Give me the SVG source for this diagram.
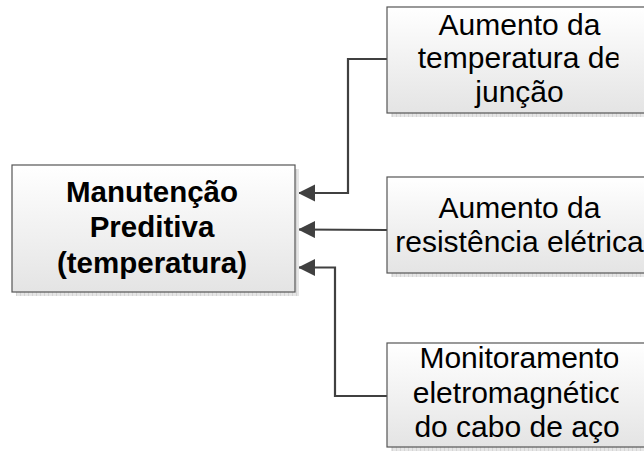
<svg xmlns="http://www.w3.org/2000/svg" width="644" height="451" viewBox="0 0 644 451">
<style>
.box{fill:url(#g);stroke:#555;stroke-width:1.2}
.sh{fill:url(#dots)}
.t{font-family:"Liberation Sans",Arial,sans-serif;font-size:30px;fill:#000;text-anchor:middle}
.b{font-family:"Liberation Sans",Arial,sans-serif;font-size:29.5px;font-weight:bold;fill:#000;text-anchor:middle}
.c{fill:none;stroke:#404040;stroke-width:2.2}
</style>
<defs>
<linearGradient id="g" x1="0" y1="0" x2="0" y2="1">
<stop offset="0" stop-color="#ffffff"/>
<stop offset="1" stop-color="#e4e4e4"/>
</linearGradient>
<pattern id="dots" width="4" height="4" patternUnits="userSpaceOnUse">
<rect width="4" height="4" fill="#e6e6e6"/>
<rect width="1" height="4" fill="#d4d4d4"/>
</pattern>
<marker id="ah" markerUnits="userSpaceOnUse" markerWidth="18" markerHeight="18" refX="17" refY="8.5" orient="auto">
<path d="M0,0 L17,8.5 L0,17 Z" fill="#404040"/>
</marker>
<clipPath id="clipR"><rect x="380" y="0" width="238.5" height="451"/></clipPath>
</defs>
<g id="connectors">
<polyline class="c" points="387,59 348,59 348,193 298,193" marker-end="url(#ah)"/>
<polyline class="c" points="387,230 298,229.5" marker-end="url(#ah)"/>
<polyline class="c" points="387,396 335,396 335,267.5 298,267.5" marker-end="url(#ah)"/>
</g>
<g id="node-manutencao">
<rect class="sh" x="16" y="169" width="283" height="127"/>
<rect class="box" x="12" y="165" width="283" height="127"/>
<text class="b" x="152" y="201.5">Manutenção</text>
<text class="b" x="152" y="237">Preditiva</text>
<text class="b" x="152" y="273">(temperatura)</text>
</g>
<g id="node-juncao">
<rect class="sh" x="391" y="11" width="270" height="106"/>
<rect class="box" x="387" y="7" width="270" height="106"/>
<g clip-path="url(#clipR)">
<text class="t" x="519.5" y="35">Aumento da</text>
<text class="t" x="519.5" y="68">temperatura de</text>
<text class="t" x="519.5" y="102">junção</text>
</g>
</g>
<g id="node-resistencia">
<rect class="sh" x="391" y="181" width="270" height="96"/>
<rect class="box" x="387" y="177" width="270" height="96"/>
<text class="t" x="519.5" y="217.5">Aumento da</text>
<text class="t" x="519.5" y="252">resistência elétrica</text>
</g>
<g id="node-monitoramento">
<rect class="sh" x="391" y="347" width="270" height="104"/>
<rect class="box" x="387" y="343" width="270" height="104"/>
<g clip-path="url(#clipR)">
<text class="t" x="519.5" y="368">Monitoramento</text>
<text class="t" x="519.5" y="403">eletromagnético</text>
</g>
<text class="t" x="517" y="437">do cabo de aço</text>
</g>
</svg>
